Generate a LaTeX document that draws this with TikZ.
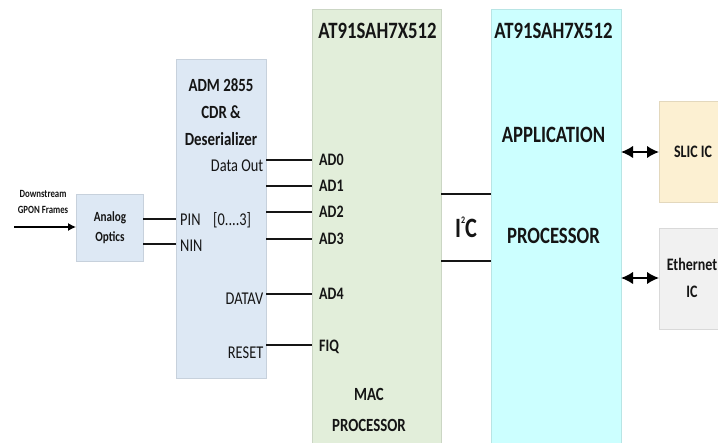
\documentclass[tikz,border=0pt]{standalone}
\usepackage{fontspec}
\setmainfont[FakeStretch=0.8]{Carlito}
\usetikzlibrary{arrows.meta}
\definecolor{bluebox}{HTML}{DDE8F4}
\definecolor{greenbox}{HTML}{E2EEDA}
\definecolor{cyanbox}{HTML}{CCFFFF}
\definecolor{yellowbox}{HTML}{FCF0D2}
\definecolor{greybox}{HTML}{F1F1F1}
\definecolor{ink}{HTML}{151515}
\tikzset{
  block/.style={anchor=north west,inner sep=0pt,outer sep=0pt,draw=#1!90!black,line width=0.5pt,fill=#1},
  head/.style={font=\bfseries\fontsize{23.4}{24}\selectfont,text=ink,inner sep=0pt,align=center},
  body/.style={font=\fontsize{18}{19}\selectfont,text=ink,inner sep=0pt},
  pinl/.style={font=\bfseries\fontsize{17.5}{18}\selectfont,text=ink,inner sep=0pt,anchor=west},
  small/.style={text=ink,inner sep=0pt,align=center},
  wire/.style={line width=1.1pt,draw=ink},
  arr/.style={line width=1.2pt,draw=black,-{Latex[length=8pt,width=8pt]}},
  darr/.style={line width=2pt,draw=black,{Latex[length=12pt,width=12.5pt]}-{Latex[length=12pt,width=12.5pt]}}
}
\begin{document}
\begin{tikzpicture}[x=1pt,y=-1pt]
\useasboundingbox (0,0) rectangle (718,443);
\node[block=bluebox,minimum width=67pt,minimum height=67pt] (optics) at (76,194) {};
\node[block=bluebox,minimum width=90pt,minimum height=319pt] (adm) at (176,59) {};
\node[block=greenbox,minimum width=129pt,minimum height=434pt] (mac) at (312,9) {};
\node[block=cyanbox,minimum width=130pt,minimum height=434pt] (app) at (491,9) {};
\node[block=yellowbox,minimum width=62pt,minimum height=101pt] (slic) at (659,101) {};
\node[block=greybox,minimum width=62pt,minimum height=101pt] (eth) at (659,228) {};
\node[small,font=\bfseries\fontsize{11}{15.5}\selectfont] (down) at (43,202) {Downstream\\GPON Frames};
\coordinate (src) at (14,227);
\node[small,font=\bfseries\fontsize{14}{20}\selectfont] (opticsl) at (110,228) {Analog\\Optics};
\node[head,font=\bfseries\fontsize{18.6}{27}\selectfont] (admt) at (221,112) {ADM 2855\\CDR \&\\Deserializer};
\node[body,anchor=east] (dout) at (263.5,166) {Data Out};
\node[body,anchor=west] (pin) at (180,220) {PIN};
\node[body,anchor=west] (rng) at (213,220) {[0....3]};
\node[body,anchor=west] (nin) at (180,246) {NIN};
\node[body,anchor=east] (datav) at (263.5,299) {DATAV};
\node[body,anchor=east] (rst) at (263.5,353) {RESET};
\node[pinl] (ad0) at (319,160) {AD0};
\node[pinl] (ad1) at (319,186) {AD1};
\node[pinl] (ad2) at (319,212) {AD2};
\node[pinl] (ad3) at (319,239) {AD3};
\node[pinl] (ad4) at (319,294) {AD4};
\node[pinl] (fiq) at (319,347) {FIQ};
\node[head] (mact) at (377.5,31) {AT91SAH7X512};
\node[small,font=\bfseries\fontsize{18.6}{31}\selectfont] (macl) at (369,410) {MAC\\PROCESSOR};
\node[head] (appt) at (553.5,31) {AT91SAH7X512};
\node[head] (appa) at (553.5,135) {APPLICATION};
\node[head] (appp) at (553.5,236) {PROCESSOR};
\node[small,font=\bfseries\fontsize{17.5}{19}\selectfont] (slicl) at (693,152) {SLIC IC};
\node[small,font=\bfseries\fontsize{17.5}{27}\selectfont] (ethl) at (692,278) {Ethernet\\IC};
\node[font=\bfseries\fontsize{28}{30}\selectfont,text=ink,inner sep=0pt] (i2c) at (466,227) {I\raisebox{14pt}{\fontsize{10}{11}\selectfont 2}C};
\coordinate (i2ca) at (466,194);
\coordinate (i2cb) at (466,261);
\coordinate (pina) at (160,219);
\coordinate (nina) at (160,244);
\coordinate (ad0y) at (290,160);
\coordinate (fiqy) at (290,345);
\draw[arr] (src) -- (optics.west |- src);
\draw[wire] (optics.east |- pina) -- (adm.west |- pina);
\draw[wire] (optics.east |- nina) -- (adm.west |- nina);
\draw[wire] (adm.east |- ad0y) -- (mac.west |- ad0y);
\draw[wire] (adm.east |- ad1) -- (mac.west |- ad1);
\draw[wire] (adm.east |- ad2) -- (mac.west |- ad2);
\draw[wire] (adm.east |- ad3) -- (mac.west |- ad3);
\draw[wire] (adm.east |- ad4) -- (mac.west |- ad4);
\draw[wire] (adm.east |- fiqy) -- (mac.west |- fiqy);
\draw[wire] (mac.east |- i2ca) -- (app.west |- i2ca);
\draw[wire] (mac.east |- i2cb) -- (app.west |- i2cb);
\draw[darr] (app.east |- slicl) -- (slic.west |- slicl);
\draw[darr] (app.east |- ethl) -- (eth.west |- ethl);
\end{tikzpicture}
\end{document}
